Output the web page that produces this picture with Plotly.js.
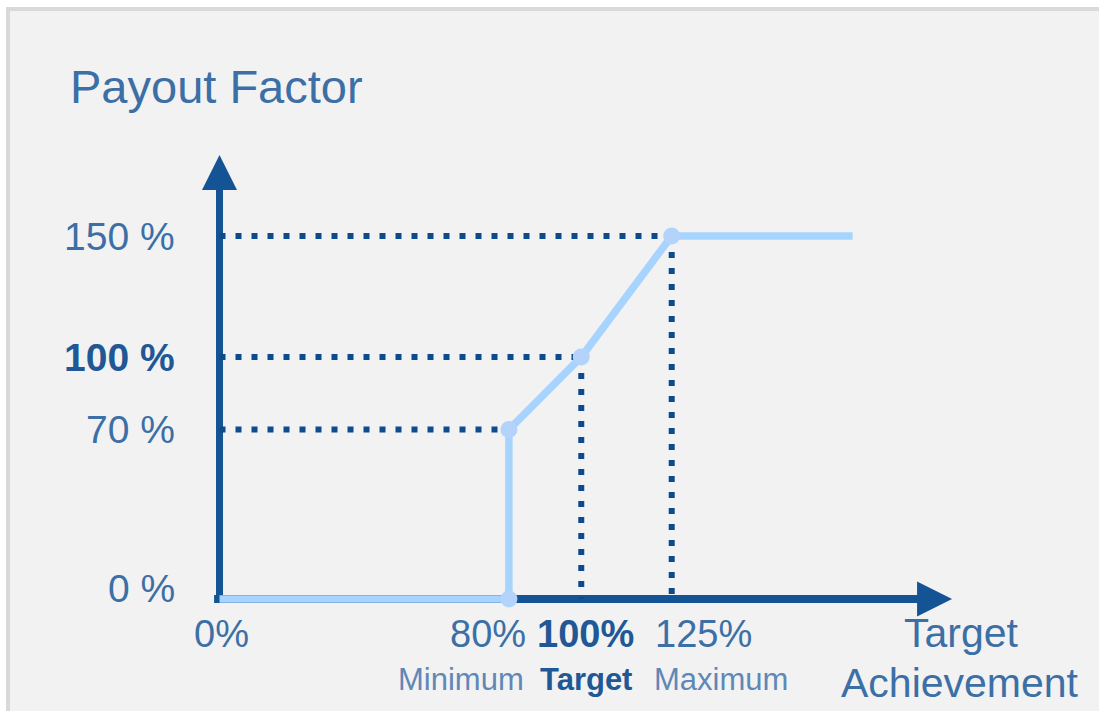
<!DOCTYPE html>
<html>
<head>
<meta charset="utf-8">
<script src="https://cdn.plot.ly/plotly-3.0.1.min.js"></script>
<style>
  html, body { margin: 0; padding: 0; background: #ffffff; }
  #chart { width: 1099px; height: 711px; }
</style>
</head>
<body>
<div id="chart"></div>
<script>
// ---- Data ----
const achievement = [0, 80, 80, 100, 125, 175];        // target achievement (%)
const payout      = [0, 0, 70, 100, 150, 150];         // payout factor (%)

const keyAchievement = [80, 80, 100, 125];             // marked points
const keyPayout      = [0, 70, 100, 150];

const guideAchievement = [80, 100, 125];               // dotted guide lines
const guidePayout      = [70, 100, 150];

const yTickValues = [150, 100, 70, 0];
const yTickLabels = ['150 %', '100 %', '70 %', '0 %'];
const yTickBold   = [false, true, false, false];

const xTickValues = [0, 80, 100, 125];
const xTickLabels = ['0%', '80%', '100%', '125%'];
const xSubLabels  = ['', 'Minimum', 'Target', 'Maximum'];
const xTickBold   = [false, false, true, false];

const xAxisEnd = 202.5;   // arrow tips
const yAxisEnd = 183.5;

// ---- Styles ----
const FONT = 'Liberation Sans, Arial, sans-serif';
const TEXT = '#3b6fa6';
const TEXT_DARK = '#1f5895';
const TEXT_LIGHT = '#5f88b8';
const AXIS = '#155494';
const DOT = '#0d4b8c';
const LIGHT = '#a7d3ff';
const MARK = '#b3d3fb';

// dotted guides built from the data
const gx = [], gy = [];
guideAchievement.forEach((a, i) => {
  const p = guidePayout[i];
  gx.push(0, a, null, a, a, null);
  gy.push(p, p, null, p, 0, null);
});

const traces = [
  { x: gx, y: gy, mode: 'lines', line: { color: DOT, width: 6, dash: '6px,10px' },
    hoverinfo: 'skip', showlegend: false },
  { x: achievement, y: payout, mode: 'lines', line: { color: LIGHT, width: 7.5 },
    hoverinfo: 'skip', showlegend: false },
  { x: keyAchievement, y: keyPayout, mode: 'markers',
    marker: { color: MARK, size: 17 }, hoverinfo: 'skip', showlegend: false }
];

const annotations = [];
// title
annotations.push({ xref: 'paper', yref: 'paper', x: 68 / 1099, y: 1 - 86 / 711,
  xanchor: 'left', yanchor: 'middle', text: 'Payout Factor', showarrow: false,
  font: { family: FONT, size: 47, color: TEXT } });

// y tick labels
yTickValues.forEach((v, i) => {
  annotations.push({ xref: 'x', yref: 'y', x: 0, y: v, xshift: -43, yshift: v === 0 ? 11 : 0,
    xanchor: 'right', yanchor: 'middle', showarrow: false,
    text: yTickBold[i] ? '<b>' + yTickLabels[i] + '</b>' : yTickLabels[i],
    font: { family: FONT, size: 39, color: yTickBold[i] ? TEXT_DARK : TEXT } });
});

// x tick labels (with offsets as in the figure)
const xShift = [2, -21, 4, 32];
const subShift = [0, -48, 5, 49];
xTickValues.forEach((v, i) => {
  annotations.push({ xref: 'x', yref: 'y', x: v, y: 0, xshift: xShift[i], yshift: -35,
    xanchor: 'center', yanchor: 'middle', showarrow: false,
    text: xTickBold[i] ? '<b>' + xTickLabels[i] + '</b>' : xTickLabels[i],
    font: { family: FONT, size: 38, color: xTickBold[i] ? TEXT_DARK : TEXT } });
  if (xSubLabels[i]) {
    annotations.push({ xref: 'x', yref: 'y', x: v, y: 0, xshift: subShift[i], yshift: -80,
      xanchor: 'center', yanchor: 'middle', showarrow: false,
      text: xTickBold[i] ? '<b>' + xSubLabels[i] + '</b>' : xSubLabels[i],
      font: { family: FONT, size: 31, color: xTickBold[i] ? TEXT_DARK : TEXT_LIGHT } });
  }
});

// x axis title
annotations.push({ xref: 'paper', yref: 'paper', x: 961 / 1099, y: 1 - 633 / 711,
  xanchor: 'center', yanchor: 'middle', text: 'Target', showarrow: false,
  font: { family: FONT, size: 41, color: TEXT } });
annotations.push({ xref: 'paper', yref: 'paper', x: 960 / 1099, y: 1 - 683 / 711,
  xanchor: 'center', yanchor: 'middle', text: 'Achievement', showarrow: false,
  font: { family: FONT, size: 41, color: TEXT } });

// arrow heads
annotations.push({ xref: 'x', yref: 'y', x: xAxisEnd, y: 0, ax: -40, ay: 0, text: '',
  showarrow: true, arrowhead: 2, arrowsize: 1, arrowwidth: 7, arrowcolor: AXIS, standoff: 0 });
annotations.push({ xref: 'x', yref: 'y', x: 0, y: yAxisEnd, ax: 0, ay: 40, text: '',
  showarrow: true, arrowhead: 2, arrowsize: 1, arrowwidth: 7, arrowcolor: AXIS, standoff: 0 });

const shapes = [
  { type: 'rect', xref: 'paper', yref: 'paper', x0: 8 / 1099, x1: 1.05, y0: -0.05, y1: 1 - 9 / 711,
    fillcolor: '#f2f2f2', line: { color: '#d9d9d9', width: 4 }, layer: 'below' },
  { type: 'line', xref: 'x', yref: 'y', x0: -1.5, x1: xAxisEnd - 8, y0: 0, y1: 0,
    line: { color: AXIS, width: 8 }, layer: 'below' },
  { type: 'line', xref: 'x', yref: 'y', x0: 0, x1: 0, y0: -1.6, y1: yAxisEnd - 10,
    line: { color: AXIS, width: 7 }, layer: 'below' }
];

const layout = {
  width: 1099, height: 711,
  margin: { l: 0, r: 0, t: 0, b: 0 },
  paper_bgcolor: '#ffffff', plot_bgcolor: 'rgba(0,0,0,0)',
  xaxis: { range: [-60.68, 243.12], visible: false, fixedrange: true },
  yaxis: { range: [-46.28, 247.52], visible: false, fixedrange: true },
  showlegend: false,
  shapes: shapes,
  annotations: annotations
};

Plotly.newPlot('chart', traces, layout, { displayModeBar: false, staticPlot: true });
</script>
</body>
</html>
